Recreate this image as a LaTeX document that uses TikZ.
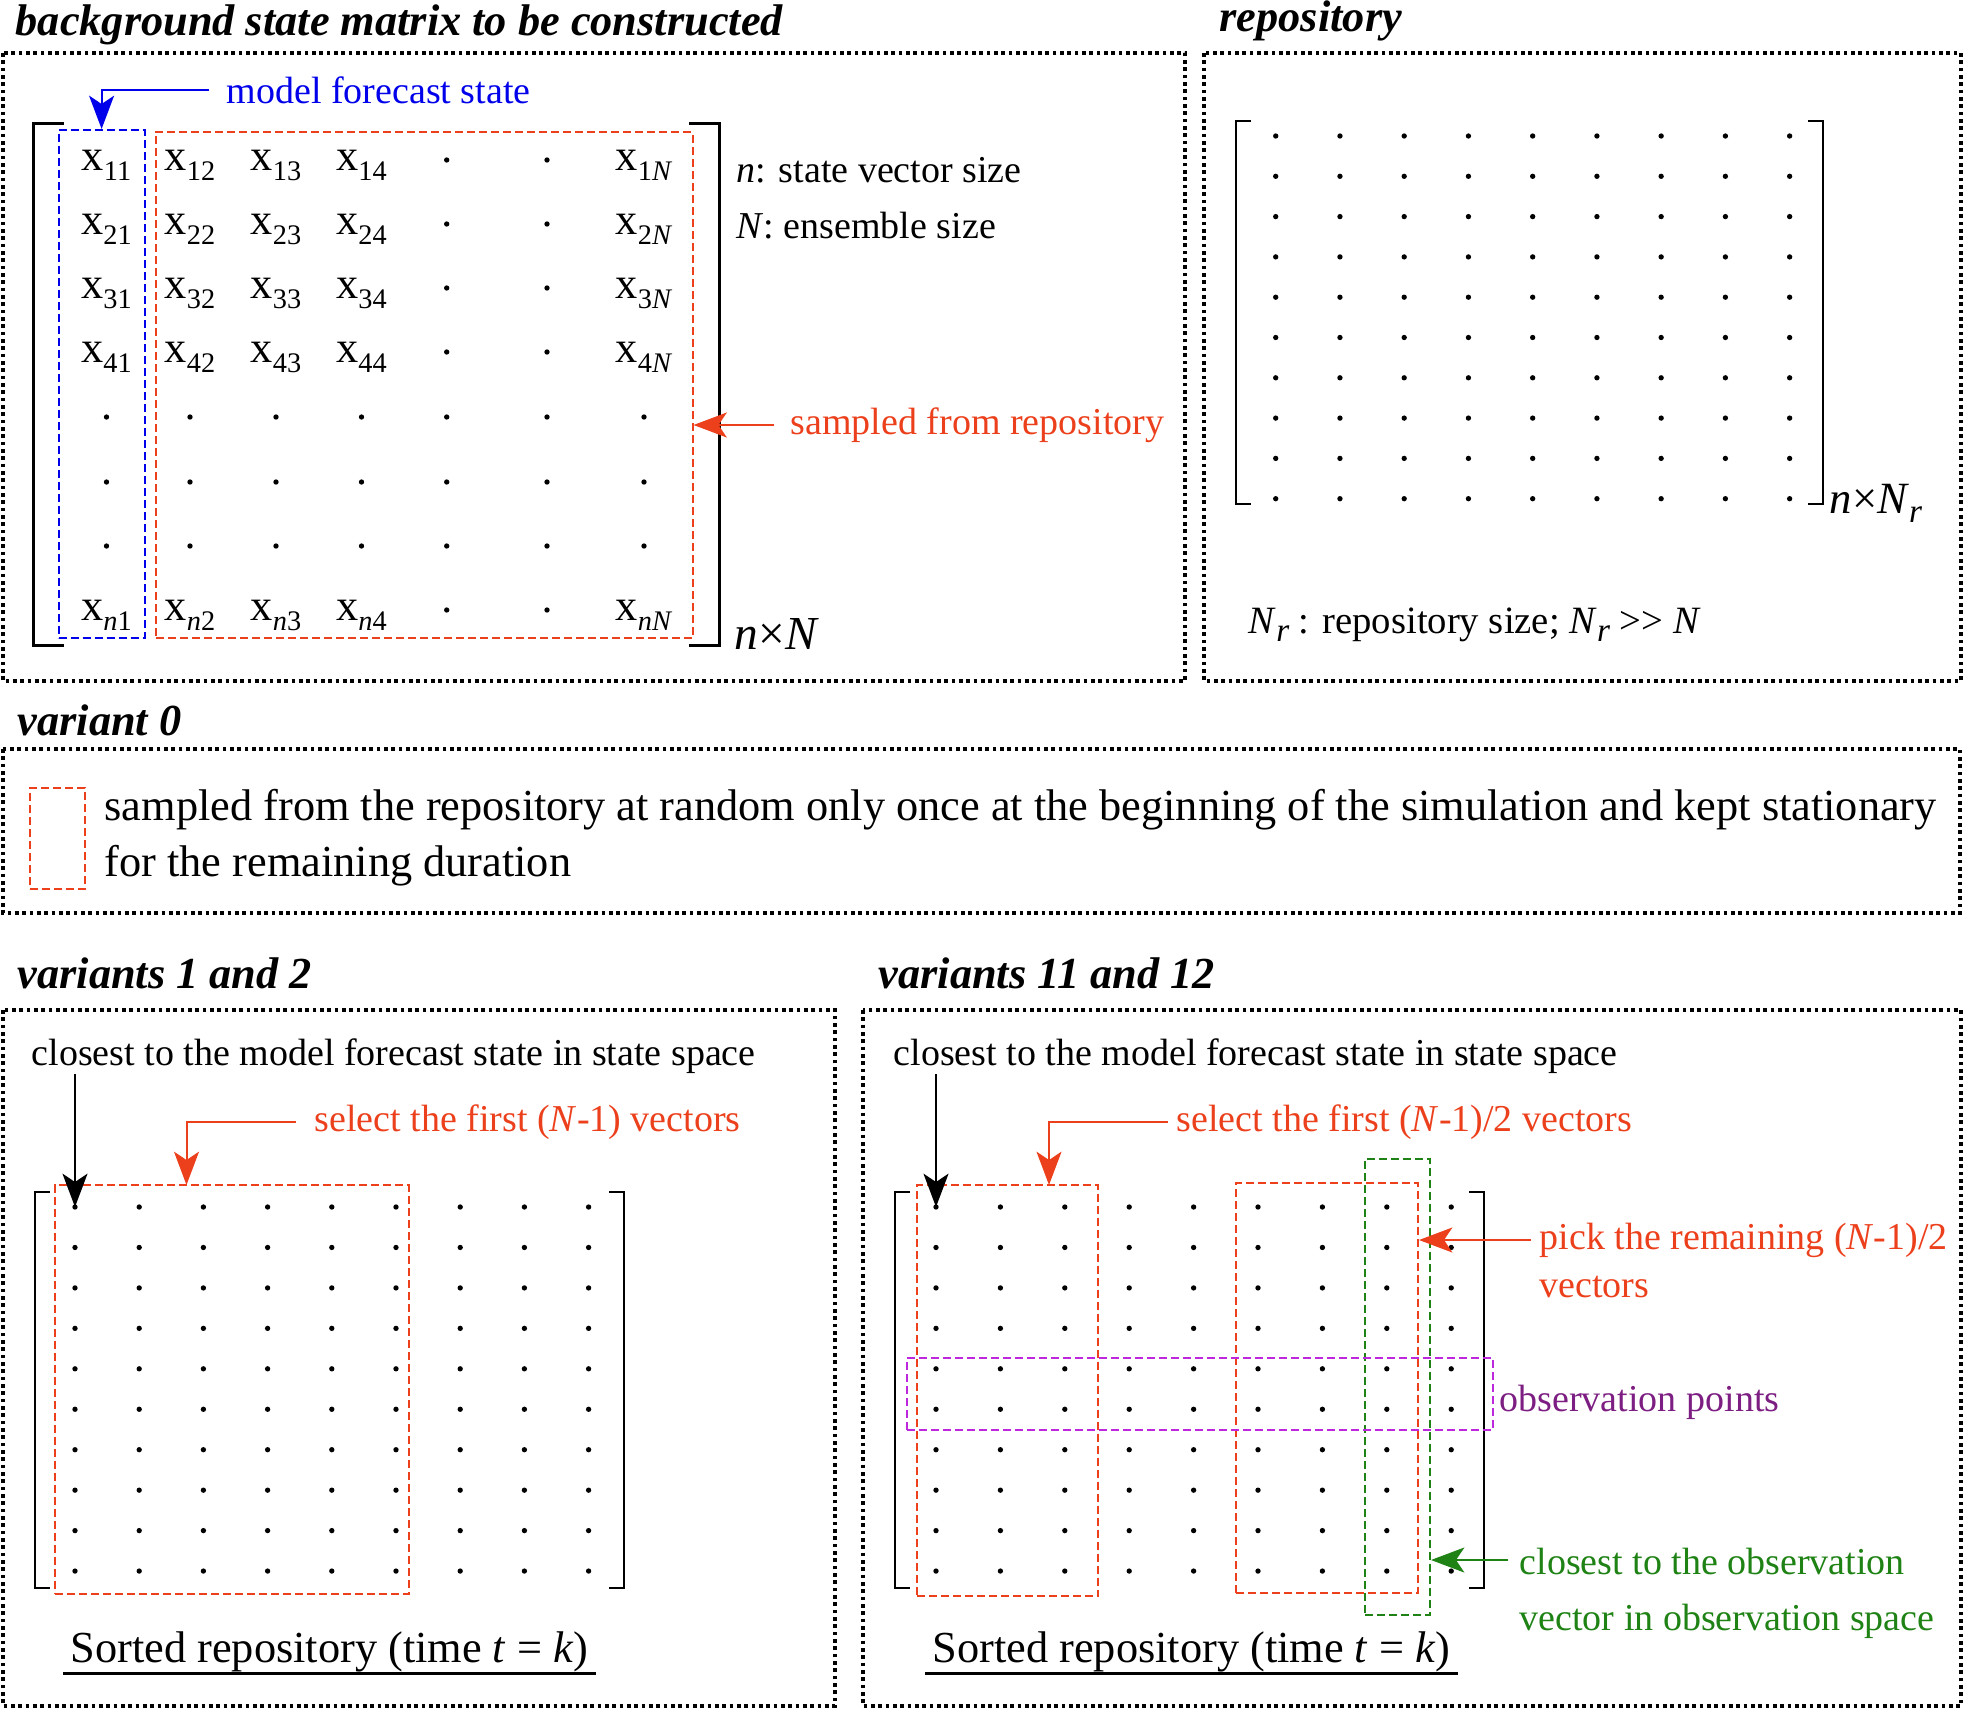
\documentclass[tikz,border=0pt]{standalone}
\usepackage{fontspec}
\setmainfont{Liberation Serif}
\usepackage{xcolor}
\usepackage{tikz}
\usetikzlibrary{arrows.meta, positioning, fit}
\definecolor{fcblue}{RGB}{0,0,235}
\definecolor{smpred}{RGB}{236,64,28}
\definecolor{obsgreen}{RGB}{30,130,20}
\definecolor{obspurple}{RGB}{125,30,130}
\definecolor{obsmagenta}{RGB}{190,40,220}
\newcommand{\subidx}[1]{\raisebox{-0.5ex}{\fontsize{8.5}{9}\selectfont #1}}
\newcommand{\subrep}{\raisebox{-0.45ex}{\fontsize{10}{11}\selectfont\itshape r}}

\begin{document}
\begin{tikzpicture}[x=0.3pt, y=-0.3pt]
        \tikzstyle{panel} = [draw=black, line width=1.1pt, dash pattern=on 1.1pt off 1.1pt]
        \tikzstyle{paneltitle} = [anchor=west, inner sep=0pt, font=\fontsize{13.3}{16}\selectfont\bfseries\itshape]
        \tikzstyle{note} = [anchor=west, inner sep=0pt, align=left, font=\fontsize{11.4}{13.5}\selectfont]
        \tikzstyle{bignote} = [anchor=west, inner sep=0pt, align=left, font=\fontsize{13.3}{16.8}\selectfont]
        \tikzstyle{entry} = [anchor=base, inner sep=0pt, font=\fontsize{13.3}{16}\selectfont]
        \tikzstyle{gridpt} = [circle, fill=black, inner sep=0pt, minimum size=1.6pt]
        \tikzstyle{selbox} = [draw=smpred, line width=0.6pt, dash pattern=on 2.4pt off 1.2pt, inner sep=0pt]
        \tikzstyle{fcbox} = [selbox, draw=fcblue]
        \tikzstyle{obsbox} = [selbox, draw=obsmagenta]
        \tikzstyle{nearbox} = [selbox, draw=obsgreen]
        \tikzstyle{bracket} = [line width=0.6pt]
        \tikzstyle{arrow} = [line width=0.6pt, -{Stealth[length=10pt, width=7.5pt, inset=2.5pt]}]

        \useasboundingbox (0,0) rectangle (1967,1709);

        % panels
        \draw [panel] (3,53) rectangle (1185,681);
        \draw [panel] (1204,53) rectangle (1961,681);
        \draw [panel] (3,749) rectangle (1960,913);
        \draw [panel] (3,1010) rectangle (835,1706);
        \draw [panel] (863,1010) rectangle (1961,1706);

        \node (bgtitle) [paneltitle] at (15,25) {background state matrix to be constructed};
        \node (reptitle) [paneltitle] at (1219,21) {repository};
        \node (v0title) [paneltitle] at (17,720) {variant 0};
        \node (v12title) [paneltitle] at (17,973) {variants 1 and 2};
        \node (v1112title) [paneltitle] at (878,973) {variants 11 and 12};

        % background state matrix
        \draw [bracket, line width=0.9pt] (64,123) -- (33,123) -- (33,645) -- (64,645);
        \draw [bracket, line width=0.9pt] (689,123) -- (719,123) -- (719,645) -- (689,645);
        \foreach \r/\ry in {1/160, 2/224, 3/288, 4/352} {
            \foreach \c/\cx in {1/106.5, 2/190, 3/276, 4/361.5}
                \node (x-\r-\c) [entry] at (\cx,{\ry+10}) {x\subidx{\r\c}};
            \node (x-\r-5) [gridpt] at (446.7,\ry) {};
            \node (x-\r-6) [gridpt] at (547,\ry) {};
            \node (x-\r-N) [entry] at (644,{\ry+10}) {x\subidx{\r\textit{N}}};
        }
        \foreach \ry in {417, 482, 546}
            \foreach \cx in {106.5, 190, 276, 361.5, 446.7, 547, 644}
                \node [gridpt] at (\cx,\ry) {};
        \foreach \c/\cx in {1/106.5, 2/190, 3/276, 4/361.5}
            \node (x-n-\c) [entry] at (\cx,620) {x\subidx{\textit{n}\c}};
        \node (x-n-5) [gridpt] at (446.7,610) {};
        \node (x-n-6) [gridpt] at (547,610) {};
        \node (x-n-N) [entry] at (644,620) {x\subidx{\textit{nN}}};

        \node (fcbox) [fcbox, fit={(58.6,130) (144.6,638)}] {};
        \node (smpbox) [selbox, fit={(156,131.6) (692.5,638)}] {};

        \node (fclabel) [note, text=fcblue] at (226,90) {model forecast state};
        \node (nsize) [note] at (736,170) {\textit{n}: state vector size};
        \node (Nsize) [note] at (736,226) {\textit{N}: ensemble size};
        \node (smplabel) [note, text=smpred] at (790,425) {sampled from repository};
        \node (bgdim) [bignote, font=\fontsize{14.2}{16}\selectfont\itshape] at (734,634) {n{\upshape ×}N};

        \draw [arrow, fcblue] ([xshift=-5pt]fclabel.west) -| (fcbox.north);
        \draw [arrow, smpred] ([xshift=-4.8pt]smplabel.west) -- (smplabel.west -| smpbox.east);

        % repository
        \draw [bracket] (1251,121) -- (1236,121) -- (1236,504) -- (1251,504);
        \draw [bracket] (1808,121) -- (1823,121) -- (1823,504) -- (1808,504);
        \foreach \i in {0,...,8}
            \foreach \j in {0,...,9}
                \node (r-\i-\j) [gridpt] at ({1275.7+64.24*\i},{136+40.3*\j}) {};
        \node (repdim) [bignote, font=\fontsize{13.4}{16}\selectfont] at (1829,503) {\textit{n}×\textit{N}\subrep};
        \node (repsize) [note, font=\fontsize{11.6}{14}\selectfont] at (1248,625) {\textit{N}\subrep\ : repository size; \textit{N}\subrep\ >{}> \textit{N}};

        % variant 0
        \node (v0box) [selbox, fit={(30,788) (85,889)}] {};
        \node (v0text) [bignote] at (104,838) {sampled from the repository at random only once at the beginning of the simulation and kept stationary\\for the remaining duration};

        % variants 1 and 2
        \draw [bracket] (50,1192) -- (35,1192) -- (35,1588) -- (50,1588);
        \draw [bracket] (609,1192) -- (624,1192) -- (624,1588) -- (609,1588);
        \foreach \i in {0,...,8}
            \foreach \j in {0,...,9}
                \node (a-\i-\j) [gridpt] at ({75+64.2*\i},{1207+40.45*\j}) {};
        \node (firstA) [selbox, fit={(55,1185) (408.7,1594)}] {};
        \node (closeA) [note] at (31,1056) {closest to the model forecast state in state space};
        \node (selA) [note, text=smpred] at (314,1122) {select the first (\textit{N}-1) vectors};
        \coordinate (selAtip) at (186.5,1185);
        \draw [arrow] (closeA.south -| a-0-0) -- (a-0-0.center);
        \draw [arrow, smpred] ([xshift=-5.4pt]selA.west) -| (selAtip);
        \node (sortA) [bignote] at (70,1652) {Sorted repository (time \textit{t} = \textit{k})};
        \draw [line width=0.9pt] (63,1673) -- (596,1673);

        % variants 11 and 12
        \draw [bracket] (910,1192) -- (895,1192) -- (895,1588) -- (910,1588);
        \draw [bracket] (1469,1192) -- (1484,1192) -- (1484,1588) -- (1469,1588);
        \foreach \i in {0,...,8}
            \foreach \j in {0,...,9}
                \node (b-\i-\j) [gridpt] at ({936+64.4*\i},{1207+40.45*\j}) {};
        \node (firstB) [selbox, fit={(916.5,1185) (1098,1596)}] {};
        \node (restB) [selbox, fit={(1236,1183) (1418,1593)}] {};
        \node (nearB) [nearbox, fit={(1365,1159) (1430,1615)}] {};
        \node (obsB) [obsbox, fit={(907,1358) (1493,1430)}] {};
        \node (closeB) [note] at (893,1056) {closest to the model forecast state in state space};
        \node (selB) [note, text=smpred] at (1176,1122) {select the first (\textit{N}-1)/2 vectors};
        \node (pickB) [note, text=smpred, font=\fontsize{11.4}{14.4}\selectfont] at (1539,1260) {pick the remaining (\textit{N}-1)/2\\vectors};
        \node (obslabel) [note, text=obspurple] at (1499,1402) {observation points};
        \node (nearlabel) [note, text=obsgreen, font=\fontsize{11.4}{16.8}\selectfont] at (1519,1593) {closest to the observation\\vector in observation space};
        \coordinate (selBtip) at (1049,1185);
        \coordinate (pickBtip) at (restB.east |- 0,1240);
        \coordinate (nearBtip) at (nearB.east |- 0,1560);
        \draw [arrow] (closeB.south -| b-0-0) -- (b-0-0.center);
        \draw [arrow, smpred] ([xshift=-2.4pt]selB.west) -| (selBtip);
        \draw [arrow, smpred] ([xshift=-2.4pt]pickB.west |- pickBtip) -- (pickBtip);
        \draw [arrow, obsgreen] ([xshift=-3.3pt]nearlabel.west |- nearBtip) -- (nearBtip);
        \node (sortB) [bignote] at (932,1652) {Sorted repository (time \textit{t} = \textit{k})};
        \draw [line width=0.9pt] (925,1673) -- (1458,1673);
\end{tikzpicture}
\end{document}
